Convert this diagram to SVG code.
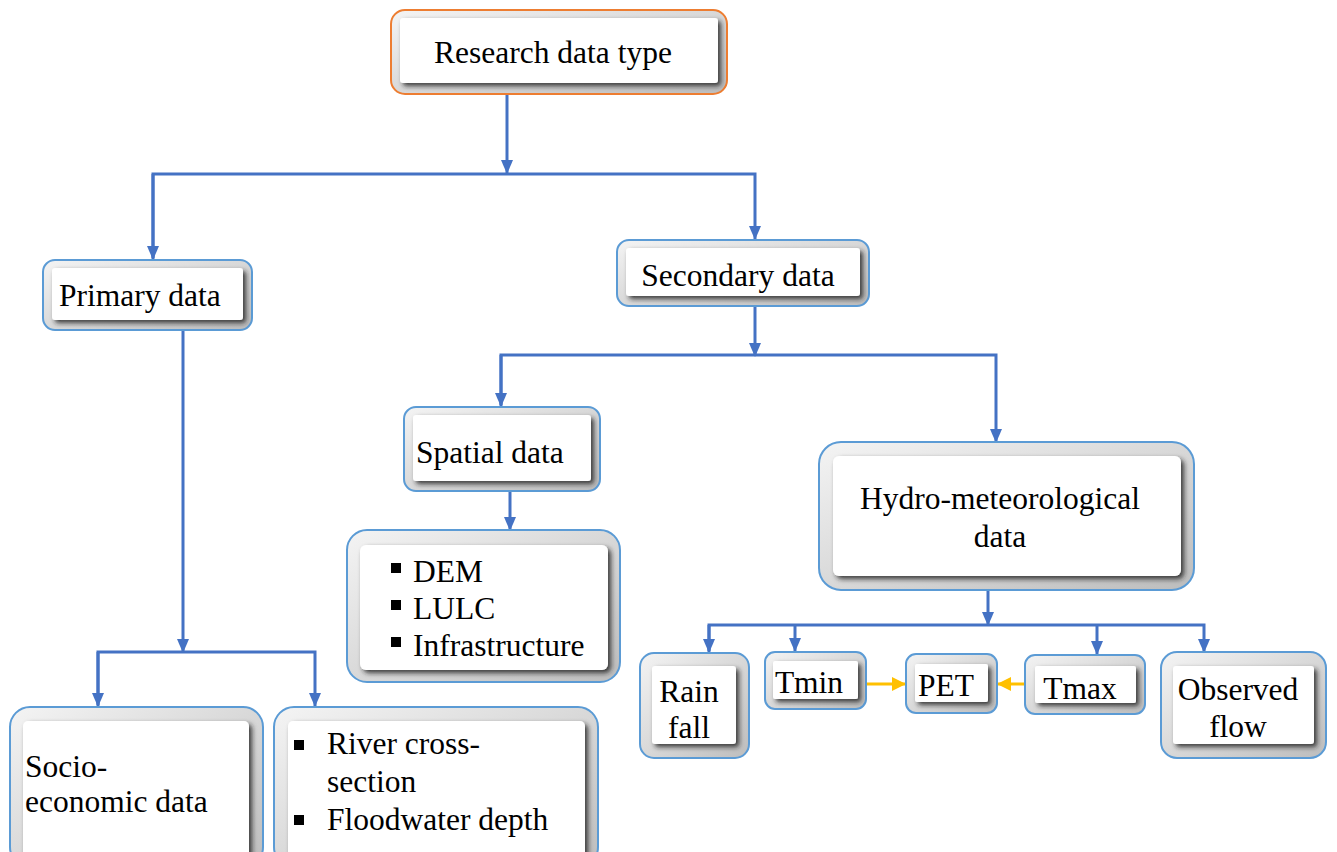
<svg xmlns="http://www.w3.org/2000/svg" width="1337" height="852" viewBox="0 0 1337 852">
<style>
.o{fill:url(#og);stroke:#5b9bd5;stroke-width:2}
.or{fill:url(#og);stroke:#ed7d31;stroke-width:2}
.i{fill:#fff;filter:url(#bev)}
.t{font-family:"Liberation Serif","Times New Roman",serif;font-size:31.5px;fill:#000}
.c{stroke:#4472c4;stroke-width:3;fill:none}
.y{stroke:#ffc000;stroke-width:3;fill:none}
.b{fill:#000}
</style>
<defs>
<linearGradient id="og" x1="0" y1="0" x2="1" y2="1">
<stop offset="0" stop-color="#f4f4f4"/><stop offset="1" stop-color="#bdbdbd"/>
</linearGradient>
<filter id="bev" x="-10%" y="-20%" width="130%" height="150%">
<feDropShadow dx="3" dy="3" stdDeviation="2.5" flood-color="#222" flood-opacity="0.85"/>
</filter>
<marker id="ab" markerWidth="14" markerHeight="12" refX="13" refY="6" orient="auto" markerUnits="userSpaceOnUse">
<path d="M0,0 L14,6 L0,12 Z" fill="#4472c4"/>
</marker>
<marker id="ay" markerWidth="14" markerHeight="14" refX="13" refY="7" orient="auto" markerUnits="userSpaceOnUse">
<path d="M0,0 L14,7 L0,14 Z" fill="#ffc000"/>
</marker>
</defs>
<g id="connectors">
<path class="c" d="M507,94 V173" marker-end="url(#ab)"/>
<path class="c" d="M153,258 V174 H755 V239" marker-end="url(#ab)"/>
<path class="c" d="M153,174 V259" marker-end="url(#ab)"/>
<path class="c" d="M755,306 V356" marker-end="url(#ab)"/>
<path class="c" d="M501,405 V355 H996 V442" marker-end="url(#ab)"/>
<path class="c" d="M501,355 V406" marker-end="url(#ab)"/>
<path class="c" d="M510,491 V530" marker-end="url(#ab)"/>
<path class="c" d="M183,330 V652" marker-end="url(#ab)"/>
<path class="c" d="M98,705 V652 H315 V706" marker-end="url(#ab)"/>
<path class="c" d="M98,652 V706" marker-end="url(#ab)"/>
<path class="c" d="M988,590 V625" marker-end="url(#ab)"/>
<path class="c" d="M709,651 V625 H1204 V652" marker-end="url(#ab)"/>
<path class="c" d="M709,625 V652" marker-end="url(#ab)"/>
<path class="c" d="M795,625 V651" marker-end="url(#ab)"/>
<path class="c" d="M1097,625 V654" marker-end="url(#ab)"/>
<path class="y" d="M866,684 H905" marker-end="url(#ay)"/>
<path class="y" d="M1025,684 H998" marker-end="url(#ay)"/>
</g>
<g id="root">
<rect class="or" x="391" y="10" width="336" height="84" rx="14"/>
<rect class="i" x="400" y="18" width="318" height="65" rx="3"/>
<text class="t" x="553" y="63" text-anchor="middle">Research data type</text>
</g>
<g id="primary">
<rect class="o" x="43" y="260" width="209" height="70" rx="12"/>
<rect class="i" x="52" y="268" width="191" height="52" rx="3"/>
<text class="t" x="59" y="306">Primary data</text>
</g>
<g id="secondary">
<rect class="o" x="617" y="240" width="252" height="66" rx="12"/>
<rect class="i" x="626" y="248" width="234" height="48" rx="3"/>
<text class="t" x="738" y="286" text-anchor="middle">Secondary data</text>
</g>
<g id="spatial">
<rect class="o" x="404" y="407" width="196" height="84" rx="12"/>
<rect class="i" x="413" y="415" width="178" height="66" rx="3"/>
<text class="t" x="416" y="463">Spatial data</text>
</g>
<g id="dem">
<rect class="o" x="347" y="530" width="273" height="152" rx="20"/>
<rect class="i" x="360" y="545" width="248" height="125" rx="6"/>
<rect class="b" x="391" y="563" width="10" height="10"/>
<rect class="b" x="391" y="600" width="10" height="10"/>
<rect class="b" x="391" y="637" width="10" height="10"/>
<text class="t" x="413" y="582">DEM</text>
<text class="t" x="413" y="619">LULC</text>
<text class="t" x="413" y="656">Infrastructure</text>
</g>
<g id="hydro">
<rect class="o" x="819" y="442" width="375" height="148" rx="22"/>
<rect class="i" x="833" y="456" width="348" height="120" rx="6"/>
<text class="t" x="1000" y="509" text-anchor="middle">Hydro-meteorological</text>
<text class="t" x="1000" y="547" text-anchor="middle">data</text>
</g>
<g id="rainfall">
<rect class="o" x="640" y="653" width="109" height="105" rx="14"/>
<rect class="i" x="652" y="666" width="84" height="78" rx="3"/>
<text class="t" x="689" y="702" text-anchor="middle">Rain</text>
<text class="t" x="689" y="738" text-anchor="middle">fall</text>
</g>
<g id="tmin">
<rect class="o" x="765" y="652" width="101" height="57" rx="10"/>
<rect class="i" x="773" y="661" width="85" height="38" rx="2"/>
<text class="t" x="809" y="693" text-anchor="middle">Tmin</text>
</g>
<g id="pet">
<rect class="o" x="906" y="654" width="91" height="59" rx="10"/>
<rect class="i" x="915" y="664" width="73" height="38" rx="2"/>
<text class="t" x="946" y="696" text-anchor="middle">PET</text>
</g>
<g id="tmax">
<rect class="o" x="1025" y="655" width="120" height="59" rx="10"/>
<rect class="i" x="1035" y="666" width="101" height="37" rx="2"/>
<text class="t" x="1080" y="699" text-anchor="middle">Tmax</text>
</g>
<g id="observed">
<rect class="o" x="1161" y="652" width="165" height="106" rx="16"/>
<rect class="i" x="1173" y="666" width="141" height="78" rx="3"/>
<text class="t" x="1238" y="700" text-anchor="middle">Observed</text>
<text class="t" x="1238" y="737" text-anchor="middle">flow</text>
</g>
<g id="socio">
<rect class="o" x="10" y="707" width="253" height="160" rx="20"/>
<rect class="i" x="23" y="721" width="226" height="145" rx="5"/>
<text class="t" x="25" y="777">Socio-</text>
<text class="t" x="25" y="812">economic data</text>
</g>
<g id="river">
<rect class="o" x="274" y="707" width="324" height="160" rx="20"/>
<rect class="i" x="288" y="721" width="297" height="145" rx="5"/>
<rect class="b" x="294" y="740" width="10" height="10"/>
<rect class="b" x="294" y="815" width="10" height="10"/>
<text class="t" x="327" y="754">River cross-</text>
<text class="t" x="327" y="792">section</text>
<text class="t" x="327" y="830">Floodwater depth</text>
</g>
</svg>
